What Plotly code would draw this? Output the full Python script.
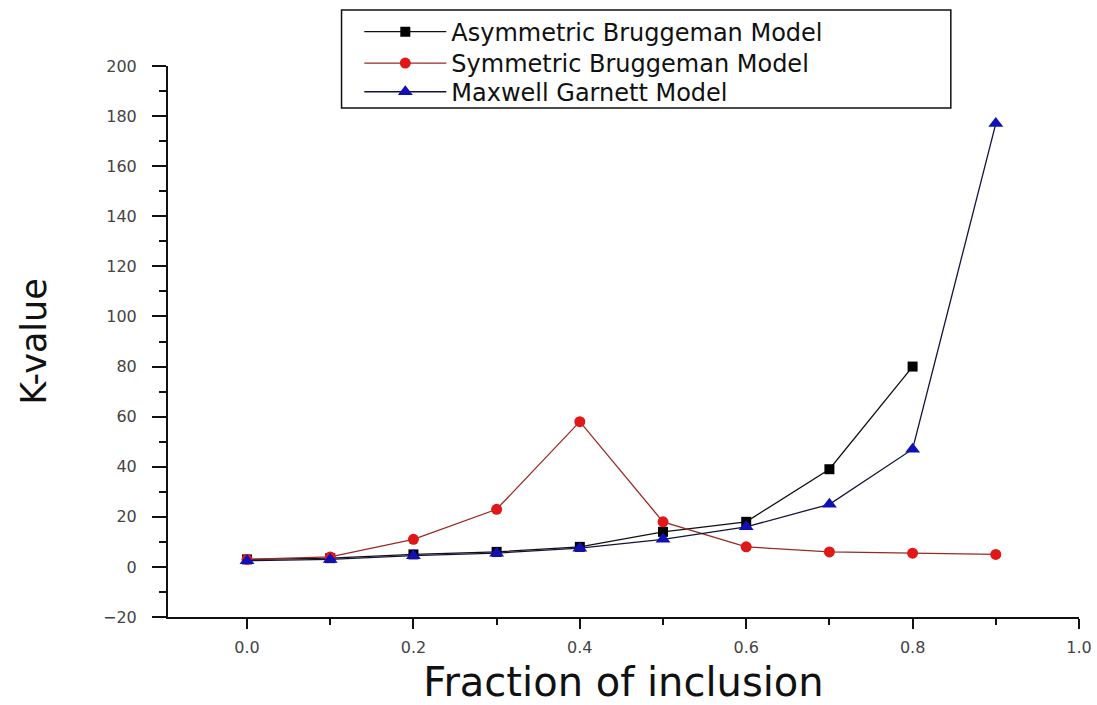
import plotly.graph_objects as go

# Volume fraction of inclusion
fraction = [0.0, 0.1, 0.2, 0.3, 0.4, 0.5, 0.6, 0.7, 0.8, 0.9]

# K-value predicted by each effective-medium model
asym_bruggeman = [3.0, 3.5, 5.0, 6.0, 8.0, 14.0, 18.0, 39.0, 80.0]
sym_bruggeman = [3.0, 4.0, 11.0, 23.0, 58.0, 18.0, 8.0, 6.0, 5.5, 5.0]
maxwell_garnett = [2.5, 3.0, 4.5, 5.5, 7.5, 11.0, 16.0, 25.0, 47.0, 177.0]

series_names = ["Asymmetric Bruggeman Model", "Symmetric Bruggeman Model", "Maxwell Garnett Model"]

x_ticks = [0.0, 0.2, 0.4, 0.6, 0.8, 1.0]
x_ticklabels = ["0.0", "0.2", "0.4", "0.6", "0.8", "1.0"]
x_minor = [0.1, 0.3, 0.5, 0.7, 0.9]
y_ticks = list(range(-20, 201, 20))

font_family = "DejaVu Sans, Verdana, sans-serif"

fig = go.Figure()

fig.add_trace(go.Scatter(
    x=fraction[:len(asym_bruggeman)], y=asym_bruggeman, name=series_names[0],
    mode="lines+markers", legend="legend",
    line=dict(color="#111111", width=1.3),
    marker=dict(symbol="square", size=10, color="#000000"),
))
fig.add_trace(go.Scatter(
    x=fraction, y=sym_bruggeman, name=series_names[1],
    mode="lines+markers", legend="legend2",
    line=dict(color="#9a2a22", width=1.3),
    marker=dict(symbol="circle", size=11, color="#e01818"),
))
fig.add_trace(go.Scatter(
    x=fraction, y=maxwell_garnett, name=series_names[2],
    mode="lines+markers", legend="legend3",
    line=dict(color="#14143a", width=1.3),
    marker=dict(symbol="triangle-up", size=13, color="#1010b8"),
))

# one legend per entry so the rows sit inside a single framed box
legend_style = dict(
    x=0.21, xanchor="left", yanchor="middle",
    bgcolor="rgba(0,0,0,0)", borderwidth=0,
    font=dict(size=24, color="#111111", family=font_family),
    itemwidth=82,
)

fig.update_layout(
    width=1097, height=705,
    margin=dict(l=168, r=18, t=66, b=88, autoexpand=False),
    paper_bgcolor="white", plot_bgcolor="white",
    font=dict(family=font_family, color="#222222"),
    showlegend=True,
    legend=dict(legend_style, y=1.0615),
    legend2=dict(legend_style, y=1.0045),
    legend3=dict(legend_style, y=0.9525),
    shapes=[dict(
        type="rect", xref="paper", yref="paper",
        x0=0.1905, x1=0.8593, y0=0.9236, y1=1.1018,
        line=dict(color="#111111", width=1.5), fillcolor="rgba(0,0,0,0)",
        layer="below",
    )],
    xaxis=dict(
        range=[-0.095, 1.0],
        tickvals=x_ticks, ticktext=x_ticklabels,
        ticks="outside", ticklen=10, tickwidth=1.5, tickcolor="#111111",
        ticklabelstandoff=5,
        showline=True, linecolor="#111111", linewidth=2,
        showgrid=False, zeroline=False,
        tickfont=dict(size=16, color="#444444"),
        minor=dict(tickvals=x_minor, ticks="outside", ticklen=6,
                   tickwidth=1.5, tickcolor="#111111"),
        title=dict(text="Fraction of inclusion", font=dict(size=40, color="#111111"), standoff=12),
    ),
    yaxis=dict(
        range=[-20, 200],
        tickvals=y_ticks,
        ticks="outside", ticklen=14, tickwidth=1.5, tickcolor="#111111",
        ticklabelstandoff=12,
        showline=True, linecolor="#111111", linewidth=2,
        showgrid=False, zeroline=False,
        tickfont=dict(size=16, color="#444444"),
        minor=dict(dtick=10, ticks="outside", ticklen=7, tickwidth=1.5, tickcolor="#111111"),
        title=dict(text="K-value", font=dict(size=35, color="#111111"), standoff=46),
    ),
)

fig.write_html("out.html")
